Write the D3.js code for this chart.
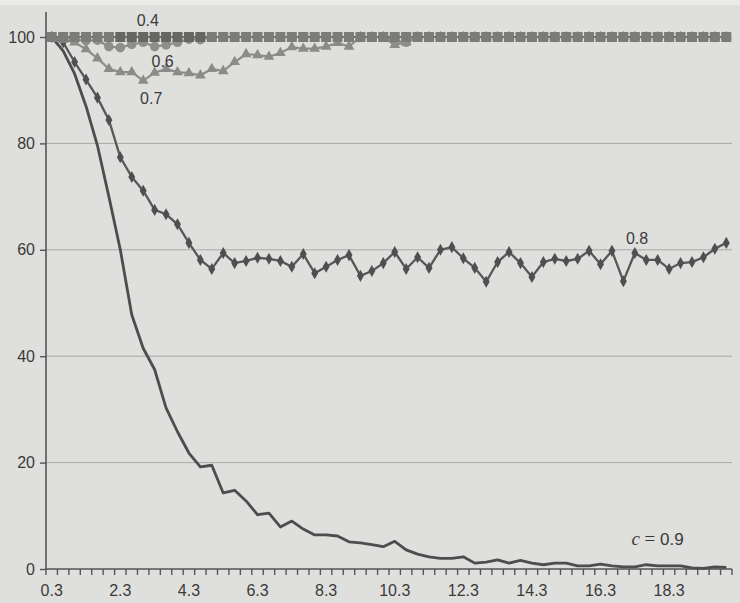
<!DOCTYPE html>
<html>
<head>
<meta charset="utf-8">
<script src="https://cdn.jsdelivr.net/npm/d3@7"></script>
<style>
  html, body { margin: 0; padding: 0; background: #dfe0dd; }
  svg { display: block; }
  text { font-family: "Liberation Sans", Arial, sans-serif; fill: #333; }
</style>
</head>
<body>
<div class="chart"></div>
<script>
// categories on the x axis (one point every 1/3)
var categories = [
  0.3, 0.63, 0.97, 1.3, 1.63, 1.97, 2.3, 2.63, 2.97, 3.3,
  3.63, 3.97, 4.3, 4.63, 4.97, 5.3, 5.63, 5.97, 6.3, 6.63,
  6.97, 7.3, 7.63, 7.97, 8.3, 8.63, 8.97, 9.3, 9.63, 9.97,
  10.3, 10.63, 10.97, 11.3, 11.63, 11.97, 12.3, 12.63, 12.97, 13.3,
  13.63, 13.97, 14.3, 14.63, 14.97, 15.3, 15.63, 15.97, 16.3, 16.63,
  16.97, 17.3, 17.63, 17.97, 18.3, 18.63, 18.97, 19.3, 19.63, 19.97
];
var xTickLabels = ["0.3", "2.3", "4.3", "6.3", "8.3", "10.3", "12.3", "14.3", "16.3", "18.3"];
var yTicks = [0, 20, 40, 60, 80, 100];

var c04 = [
  100, 100, 100, 100, 100, 100, 100, 100, 100, 100,
  100, 100, 100, 100, 100, 100, 100, 100, 100, 100,
  100, 100, 100, 100, 100, 100, 100, 100, 100, 100,
  100, 100, 100, 100, 100, 100, 100, 100, 100, 100,
  100, 100, 100, 100, 100, 100, 100, 100, 100, 100,
  100, 100, 100, 100, 100, 100, 100, 100, 100, 100
];
var c06 = [
  100, 100, 99.5, 99.3, 99.4, 98.2, 98, 98.6, 99, 98.2,
  98.5, 99, 99.6, 99.5, 100, 100, 100, 100, 100, 100,
  100, 100, 100, 100, 100, 100, 100, 100, 100, 100,
  99.3, 99, 100, 100, 100, 100, 100, 100, 100, 100,
  100, 100, 100, 100, 100, 100, 100, 100, 100, 100,
  100, 100, 100, 100, 100, 100, 100, 100, 100, 100
];
var c07 = [
  100, 99.5, 99, 97.7, 96, 94, 93.4, 93.4, 91.8, 93.3,
  94, 93.4, 93.2, 92.8, 94, 93.6, 95.3, 96.8, 96.6, 96.3,
  97, 98.1, 97.8, 97.8, 98.2, 98.9, 98.2, 100, 100, 100,
  98.5, 99, 100, 100, 100, 100, 100, 100, 100, 100,
  100, 100, 100, 100, 100, 100, 100, 100, 100, 100,
  100, 100, 100, 100, 100, 100, 100, 100, 100, 100
];
var c08 = [
  100, 99, 95.3, 92, 88.6, 84.4, 77.4, 73.7, 71.1, 67.5,
  66.7, 64.8, 61.3, 58.1, 56.4, 59.4, 57.5, 57.9, 58.5, 58.3,
  57.9, 56.8, 59.2, 55.6, 56.8, 58.1, 59, 55.1, 56, 57.5,
  59.6, 56.4, 58.6, 56.6, 60, 60.5, 58.4, 56.6, 54, 57.7,
  59.6, 57.5, 54.9, 57.7, 58.3, 57.9, 58.3, 59.8, 57.3, 59.8,
  54.1, 59.4, 58.1, 58.1, 56.4, 57.5, 57.7, 58.6, 60.2, 61.3
];
var c09 = [
  100, 97.4, 93.1, 87, 79.6, 70, 60, 47.8, 41.5, 37.5,
  30.3, 25.8, 21.8, 19.2, 19.5, 14.3, 14.8, 12.8, 10.2, 10.5,
  7.9, 9, 7.5, 6.4, 6.4, 6.2, 5.1, 4.9, 4.6, 4.2,
  5.2, 3.6, 2.8, 2.3, 2, 2, 2.3, 1.1, 1.3, 1.7,
  1.1, 1.6, 1.1, 0.8, 1.1, 1.1, 0.6, 0.6, 0.9, 0.6,
  0.4, 0.4, 0.8, 0.6, 0.6, 0.6, 0.2, 0.1, 0.4, 0.3
];

var width = 740, height = 603;
var left = 46, right = 732;

var svg = d3.select(".chart").append("svg")
    .attr("width", width)
    .attr("height", height);

// slightly lighter strip along the top edge of the scan
svg.append("rect").attr("x", 0).attr("y", 0).attr("width", width).attr("height", 5)
    .style("fill", "#ebebea");

var x = d3.scaleBand().domain(d3.range(categories.length)).range([left, right]).padding(0);
var y = d3.scaleLinear().domain([0, 100]).range([569, 37]);
function cx(i) { return x(i) + x.bandwidth() / 2; }

// gridlines
svg.append("g").selectAll("line")
    .data(yTicks.filter(function(d) { return d > 0; }))
  .enter().append("line")
    .attr("x1", left).attr("x2", right)
    .attr("y1", function(d) { return y(d); })
    .attr("y2", function(d) { return y(d); })
    .style("stroke", "#a9aaa8").style("stroke-width", 1);

// y axis
var yAxis = svg.append("g")
    .attr("transform", "translate(" + left + ",0)")
    .call(d3.axisLeft(y).tickValues(yTicks).tickSize(6).tickPadding(5).tickSizeOuter(0));
yAxis.select(".domain").remove();
yAxis.append("line").attr("x1", 0).attr("x2", 0).attr("y1", y(104.7)).attr("y2", y(0))
    .style("stroke", "#555").style("stroke-width", 1.6);
yAxis.selectAll(".tick line").style("stroke", "#555").style("stroke-width", 1.4);
yAxis.selectAll(".tick text")
    .style("font-family", "Liberation Sans, Arial, sans-serif")
    .style("font-size", "16px").style("fill", "#3a3a3a");

// x axis
var xAxis = svg.append("g");
xAxis.append("line").attr("x1", left).attr("x2", right).attr("y1", y(0)).attr("y2", y(0))
    .style("stroke", "#555").style("stroke-width", 1.6);
var bounds = d3.range(categories.length + 1).map(function(i) { return left + i * x.step(); });
xAxis.selectAll("line.tk").data(bounds).enter().append("line")
    .attr("class", "tk")
    .attr("x1", function(d) { return d; }).attr("x2", function(d) { return d; })
    .attr("y1", y(0)).attr("y2", y(0) + 6)
    .style("stroke", "#555").style("stroke-width", 1.4);
xAxis.selectAll("text").data(xTickLabels).enter().append("text")
    .attr("x", function(d, k) { return cx(k * 6); })
    .attr("y", 596)
    .attr("text-anchor", "middle")
    .style("font-size", "16px").style("fill", "#3a3a3a")
    .text(function(d) { return d; });

var line = d3.line().x(function(d, i) { return cx(i); }).y(function(d) { return y(d); });

// c = 0.9 : plain line
svg.append("path").datum(c09).attr("d", line)
    .style("fill", "none").style("stroke", "#4d4d4d").style("stroke-width", 2.8)
    .style("stroke-linejoin", "round");

// c = 0.8 : diamonds
svg.append("path").datum(c08).attr("d", line)
    .style("fill", "none").style("stroke", "#575757").style("stroke-width", 2.3);
svg.append("g").selectAll("path").data(c08).enter().append("path")
    .attr("d", d3.symbol().type(d3.symbolDiamond).size(42))
    .attr("transform", function(d, i) { return "translate(" + cx(i) + "," + y(d) + ")"; })
    .style("fill", "#4f4f4f");

// c = 0.7 : triangles
svg.append("path").datum(c07).attr("d", line)
    .style("fill", "none").style("stroke", "#8d8d8c").style("stroke-width", 2.2);
svg.append("g").selectAll("path").data(c07).enter().append("path")
    .attr("d", d3.symbol().type(d3.symbolTriangle).size(50))
    .attr("transform", function(d, i) { return "translate(" + cx(i) + "," + y(d) + ")"; })
    .style("fill", "#8b8b8a");

// c = 0.6 : circles
svg.append("path").datum(c06).attr("d", line)
    .style("fill", "none").style("stroke", "#8d8d8c").style("stroke-width", 2.2);
svg.append("g").selectAll("circle").data(c06).enter().append("circle")
    .attr("cx", function(d, i) { return cx(i); })
    .attr("cy", function(d) { return y(d); })
    .attr("r", 4.8)
    .style("fill", "#8e8e8d");

// c = 0.4 : squares
svg.append("path").datum(c04).attr("d", line)
    .style("fill", "none").style("stroke", "#6f6f6e").style("stroke-width", 2.2);
svg.append("g").selectAll("rect").data(c04).enter().append("rect")
    .attr("x", function(d, i) { return cx(i) - 5; })
    .attr("y", function(d) { return y(d) - 5; })
    .attr("width", 10).attr("height", 10)
    .style("fill", function(d, i) { return (i >= 6 && i <= 13) ? "#666665" : "#7b7b7a"; });

// series labels
var labels = [
  {t: "0.4", i: 8.4, v: 103.1},
  {t: "0.6", i: 9.7, v: 95.4},
  {t: "0.7", i: 8.7, v: 88.4},
  {t: "0.8", i: 51.2, v: 62.2}
];
svg.append("g").selectAll("text").data(labels).enter().append("text")
    .attr("x", function(d) { return left + (d.i + 0.5) * x.step(); })
    .attr("y", function(d) { return y(d.v) + 5.5; })
    .attr("text-anchor", "middle")
    .style("font-size", "16px").style("fill", "#3a3a3a")
    .text(function(d) { return d.t; });

var cl = svg.append("text")
    .attr("x", left + 51.2 * x.step())
    .attr("y", y(4.6))
    .style("font-size", "17px").style("fill", "#3a3a3a");
cl.append("tspan").style("font-family", "Liberation Serif, serif").style("font-style", "italic")
    .style("font-size", "19px").text("c");
cl.append("tspan").style("font-family", "Liberation Serif, serif").style("font-size", "19px").text(" = ");
cl.append("tspan").text("0.9");
</script>
</body>
</html>
